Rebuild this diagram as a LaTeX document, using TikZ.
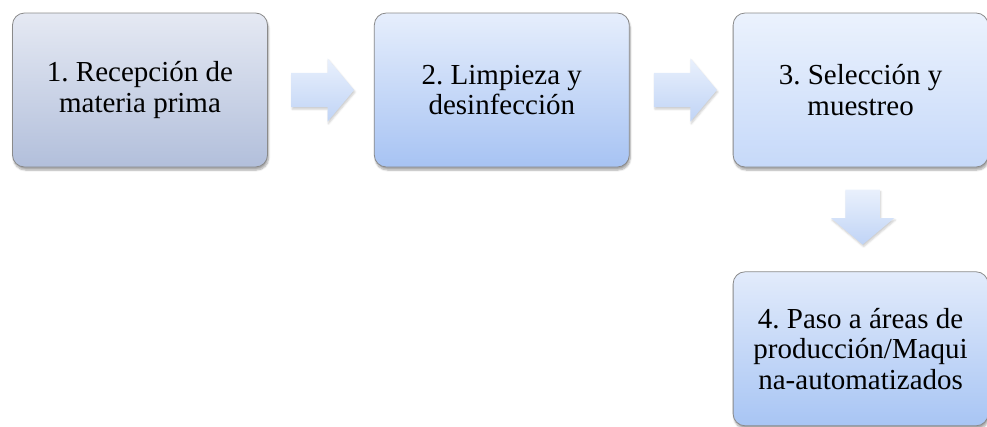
\documentclass[tikz,border=0pt]{standalone}
\usepackage{fontspec}
\setmainfont{Liberation Serif}
\usetikzlibrary{positioning,shapes.arrows,shadows.blur}
\frenchspacing

\definecolor{unoarriba}{HTML}{E5E9F3}
\definecolor{unoabajo}{HTML}{B2BFDB}
\definecolor{dosarriba}{HTML}{E6EEFC}
\definecolor{dosabajo}{HTML}{A7C3F3}
\definecolor{tresarriba}{HTML}{EBF2FD}
\definecolor{tresabajo}{HTML}{C6D9F9}
\definecolor{cuatroarriba}{HTML}{E2EBFB}
\definecolor{cuatroabajo}{HTML}{A8C5F4}
\definecolor{flechaarriba}{HTML}{E9F0FC}
\definecolor{flechaabajo}{HTML}{C0D4F6}
\definecolor{borde}{HTML}{8A8A8A}

\tikzset{
  paso/.style={draw=borde, line width=0.8pt, rounded corners=12pt,
    minimum width=255pt, minimum height=154pt, align=center,
    font=\fontsize{29}{30.5}\selectfont,
    blur shadow={shadow xshift=1pt, shadow yshift=-3pt, shadow blur steps=6, shadow opacity=35}},
  flecha/.style={single arrow, single arrow head extend=14.5pt, single arrow tip angle=100,
    inner xsep=0pt, inner ysep=17pt,
    minimum width=55pt, minimum height=63pt, draw=none, anchor=tail,
    top color=flechaarriba, bottom color=flechaabajo,
    blur shadow={shadow xshift=1pt, shadow yshift=-2pt, shadow blur steps=4, shadow opacity=20}},
  abajo/.style={shape border rotate=270, inner xsep=17pt, inner ysep=0pt,
    minimum width=63pt, minimum height=55pt}
}

\begin{document}
\begin{tikzpicture}[x=1pt,y=-1pt]
                \useasboundingbox (0,0) rectangle (987,426);

                \node[paso, top color=unoarriba, bottom color=unoabajo] (recepcion) at (140,90) {1. Recepción de\\materia prima};
                \node[paso, top color=dosarriba, bottom color=dosabajo, right=106pt of recepcion] (limpieza) {2. Limpieza y\\desinfección};
                \node[paso, top color=tresarriba, bottom color=tresabajo, right=103pt of limpieza] (seleccion) {3. Selección y\\muestreo};
                \node[paso, top color=cuatroarriba, bottom color=cuatroabajo, below=104pt of seleccion] (paso) {4. Paso a áreas de\\producción/Maqui\\na-automatizados};

                \node[flecha] (f12) at ([xshift=23pt]recepcion.east) {};
                \node[flecha] (f23) at ([xshift=24pt]limpieza.east) {};
                \node[flecha, abajo] (f34) at ([xshift=2pt,yshift=-22pt]seleccion.south) {};
\end{tikzpicture}
\end{document}
